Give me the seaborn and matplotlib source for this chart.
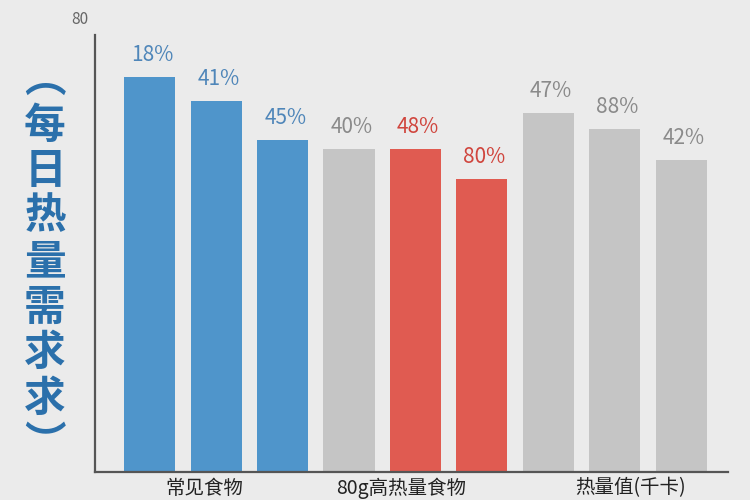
import numpy as np
import pandas as pd
import matplotlib
matplotlib.use("Agg")
import matplotlib.pyplot as plt
import seaborn as sns

# -----------------------------
# Data
# -----------------------------
items = ["a1", "a2", "a3", "b1", "b2", "b3", "c1", "c2", "c3"]
values = [72.3, 67.9, 60.8, 59.1, 59.1, 53.6, 65.7, 62.8, 57.1]
value_labels = ["18%", "41%", "45%", "40%", "48%", "80%", "47%", "88%", "42%"]
groups = ["blue", "blue", "blue", "gray", "red", "red", "gray", "gray", "gray"]
group_names = ["常见食物", "80g高热量食物", "热量值(千卡)"]
ylabel_chars = ["︵", "每", "日", "热", "量", "需", "求", "求", "︶"]

bar_colors = {"blue": "#4f95cb", "gray": "#c5c5c5", "red": "#e05b51"}
text_colors = {"blue": "#4f86b9", "gray": "#8a8a8a", "red": "#d0453d"}

df = pd.DataFrame({"item": items, "value": values, "group": groups})

sns.set_style("white")
plt.rcParams["font.family"] = ["Noto Sans CJK SC", "DejaVu Sans"]

bg = "#ebebeb"
fig = plt.figure(figsize=(7.5, 5), dpi=100, facecolor=bg)
ax = fig.add_axes([0.127, 0.056, 0.844, 0.874])
ax.set_facecolor(bg)

sns.barplot(data=df, x="item", y="value", hue="item",
            palette=[bar_colors[g] for g in groups], width=0.77,
            legend=False, ax=ax, saturation=1, linewidth=0, edgecolor="none")

ax.set_ylim(0, 80)
ax.set_xlim(-0.82, 8.71)
ax.set_xticks([])
ax.set_yticks([])
ax.set_xlabel("")
ax.set_ylabel("")

for s in ["top", "right"]:
    ax.spines[s].set_visible(False)
for s in ["left", "bottom"]:
    ax.spines[s].set_color("#555555")
    ax.spines[s].set_linewidth(1.6)

# value labels above bars
for i, (v, lab, g) in enumerate(zip(values, value_labels, groups)):
    ax.annotate(lab, (i, v), xytext=(2, 8), textcoords="offset points",
                ha="center", va="bottom", fontsize=15,
                color=text_colors[g])

# top tick text
fig.text(80 / 750, 1 - 20 / 500, "80", ha="center", va="center",
         fontsize=11, color="#666666")

# vertical y label
for k, ch in enumerate(ylabel_chars):
    fig.text(45 / 750, 1 - (80 + k * 45.5) / 500, ch, ha="center", va="center",
             fontsize=30, fontweight="heavy", color="#2b70ab")

# group names under the axis
for name, xc in zip(group_names, [204, 401, 631]):
    fig.text(xc / 750, 1 - 488 / 500, name, ha="center", va="center",
             fontsize=14, color="#222222")

fig.savefig("out.png", dpi=100, facecolor=bg)
